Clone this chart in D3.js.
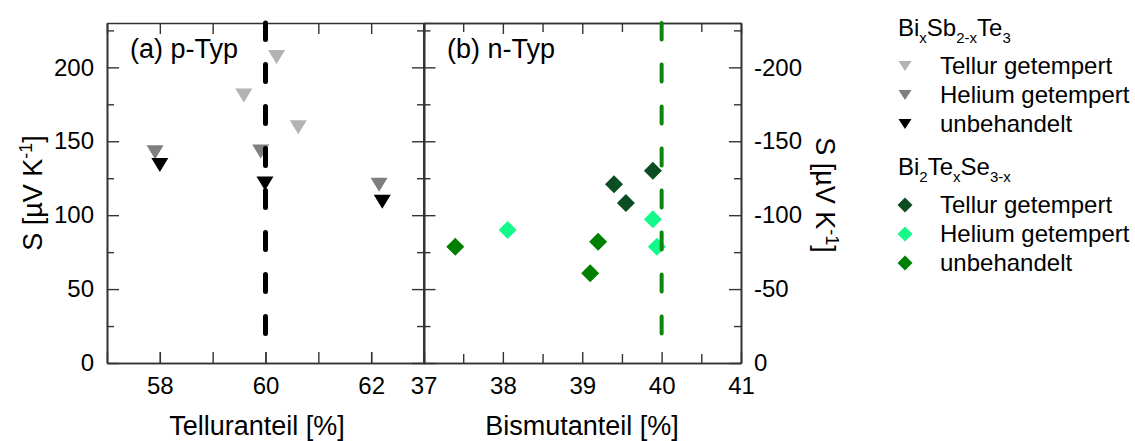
<!DOCTYPE html>
<html><head><meta charset="utf-8">
<script src="https://cdn.jsdelivr.net/npm/d3@7"></script>
<style>
body{margin:0;background:#fff}
svg text{font-family:Arial,"Liberation Sans",Helvetica,sans-serif;fill:#000}
</style>
</head><body><svg id="c" width="1135" height="441"></svg>
<script>
// ---------- data ----------
// (a) p-Typ : BixSb2-xTe3, Seebeck coefficient S [µV/K] vs Telluranteil [%]
const pTellurX = [60.21, 59.59, 60.62];
const pTellurS = [207, 181, 159.5];
const pHeliumX = [57.91, 59.91, 62.15];
const pHeliumS = [142.5, 143, 120.5];
const pUnbX    = [58.0, 59.99, 62.21];
const pUnbS    = [134, 121.5, 109];
// (b) n-Typ : Bi2TexSe3-x, S vs Bismutanteil [%]
const nTellurX = [39.40, 39.55, 39.89];
const nTellurS = [-121, -108.3, -130];
const nHeliumX = [38.06, 39.89, 39.94];
const nHeliumS = [-90, -97.2, -78.7];
const nUnbX    = [37.40, 39.20, 39.10];
const nUnbS    = [-78.7, -82, -60.7];
// stoichiometric reference lines
const pRefX = 60, pRefS = [20, 230];
const nRefX = 40, nRefS = [-20, -230];
// ticks
const yTicksLeft = [0, 50, 100, 150, 200];
const yMinorLeft = [25, 75, 125, 175, 225];
const yTicksRight = [0, -50, -100, -150, -200];
const yMinorRight = [-25, -75, -125, -175, -225];
const xTicksLeft = [58, 60, 62];
const xAllLeft = [57, 58, 59, 60, 61, 62, 63];
const xTicksRight = [37, 38, 39, 40, 41];
const xMinorRight = [37.5, 38.5, 39.5, 40.5];
const seriesNames = ["Tellur getempert", "Helium getempert", "unbehandelt"];
const pColors = ["#b3b3b3", "#7f7f7f", "#000000"];
const nColors = ["#0d4d22", "#14fa8a", "#008000"];

// ---------- scales ----------
const svg = d3.select("#c");
const xL = d3.scaleLinear([57, 63], [107, 424]);
const xR = d3.scaleLinear([37, 41], [423.5, 741]);
const yL = d3.scaleLinear([0, 230], [363, 23]);
const yR = d3.scaleLinear([0, -230], [363, 23]);
const plotTop = 23, plotBot = 363;

function styleAxis(g){
  g.selectAll("path.domain").attr("stroke","#333").attr("stroke-width",1.6);
  g.selectAll(".tick line").attr("stroke","#333").attr("stroke-width",1.4);
  g.selectAll("text").style("font-size","24px").attr("fill","#000");
}
function ax(gen, tr){ const g = svg.append("g").attr("transform", tr).call(gen); styleAxis(g); return g; }

// left panel axes
ax(d3.axisLeft(yL).tickValues(yTicksLeft).tickSizeInner(-12).tickSizeOuter(0).tickPadding(13).tickFormat(d=>String(d)), `translate(${xL.range()[0]},0)`);
ax(d3.axisLeft(yL).tickValues(yMinorLeft).tickSizeInner(-7).tickSizeOuter(0).tickFormat(""), `translate(${xL.range()[0]},0)`);
ax(d3.axisRight(yL).tickValues(yTicksLeft).tickSizeInner(-12).tickSizeOuter(0).tickFormat(""), `translate(${xL.range()[1]},0)`);
ax(d3.axisRight(yL).tickValues(yMinorLeft).tickSizeInner(-7).tickSizeOuter(0).tickFormat(""), `translate(${xL.range()[1]},0)`);
ax(d3.axisBottom(xL).tickValues(xTicksLeft).tickSizeInner(-11).tickSizeOuter(0).tickPadding(14).tickFormat(d=>String(d)), `translate(0,${plotBot})`);
ax(d3.axisBottom(xL).tickValues(xAllLeft).tickSizeInner(-11).tickSizeOuter(0).tickFormat(""), `translate(0,${plotBot})`);
ax(d3.axisTop(xL).tickValues(xAllLeft).tickSizeInner(-11).tickSizeOuter(0).tickFormat(""), `translate(0,${plotTop})`);

// right panel axes
ax(d3.axisLeft(yR).tickValues(yTicksRight).tickSizeInner(-12).tickSizeOuter(0).tickFormat(""), `translate(${xR.range()[0]},0)`);
ax(d3.axisLeft(yR).tickValues(yMinorRight).tickSizeInner(-7).tickSizeOuter(0).tickFormat(""), `translate(${xR.range()[0]},0)`);
ax(d3.axisRight(yR).tickValues(yTicksRight).tickSizeInner(-12).tickSizeOuter(0).tickPadding(13).tickFormat(d=>String(d)), `translate(${xR.range()[1]},0)`);
ax(d3.axisRight(yR).tickValues(yMinorRight).tickSizeInner(-7).tickSizeOuter(0).tickFormat(""), `translate(${xR.range()[1]},0)`);
ax(d3.axisBottom(xR).tickValues(xTicksRight).tickSizeInner(-11).tickSizeOuter(0).tickPadding(14).tickFormat(d=>String(d)), `translate(0,${plotBot})`);
ax(d3.axisBottom(xR).tickValues(xMinorRight).tickSizeInner(-9).tickSizeOuter(0).tickFormat(""), `translate(0,${plotBot})`);
ax(d3.axisTop(xR).tickValues(xTicksRight).tickSizeInner(-11).tickSizeOuter(0).tickFormat(""), `translate(0,${plotTop})`);
ax(d3.axisTop(xR).tickValues(xMinorRight).tickSizeInner(-9).tickSizeOuter(0).tickFormat(""), `translate(0,${plotTop})`);

// ---------- markers ----------
function tri(w,h){ return `M${-w/2},${-h/2}L${w/2},${-h/2}L0,${h/2}Z`; }
function dia(r){ return `M0,${-r}L${r},0L0,${r}L${-r},0Z`; }
const pSets = [[pTellurX,pTellurS],[pHeliumX,pHeliumS],[pUnbX,pUnbS]];
pSets.forEach(([xs,ys],i)=>{
  svg.append("g").selectAll("path").data(xs.map((x,j)=>[x,ys[j]])).join("path")
    .attr("d", tri(17,14)).attr("fill", pColors[i])
    .attr("transform", d=>`translate(${xL(d[0])},${yL(d[1])})`);
});
const nSets = [[nTellurX,nTellurS],[nHeliumX,nHeliumS],[nUnbX,nUnbS]];
nSets.forEach(([xs,ys],i)=>{
  svg.append("g").selectAll("path").data(xs.map((x,j)=>[x,ys[j]])).join("path")
    .attr("d", dia(9)).attr("fill", nColors[i])
    .attr("transform", d=>`translate(${xR(d[0])},${yR(d[1])})`);
});

// reference dashed lines
svg.append("line").attr("x1",xL(pRefX)).attr("x2",xL(pRefX)).attr("y1",yL(pRefS[0])).attr("y2",yL(pRefS[1]))
  .attr("stroke","#000").attr("stroke-width",5).attr("stroke-linecap","round").attr("stroke-dasharray","17,25");
svg.append("line").attr("x1",xR(nRefX)).attr("x2",xR(nRefX)).attr("y1",yR(nRefS[0])).attr("y2",yR(nRefS[1]))
  .attr("stroke","#0a860a").attr("stroke-width",4).attr("stroke-linecap","round").attr("stroke-dasharray","17,25");

// ---------- texts ----------
svg.append("text").attr("x",130).attr("y",58).style("font-size","27px").text("(a) p-Typ");
svg.append("text").attr("x",447).attr("y",58).style("font-size","27px").text("(b) n-Typ");
svg.append("text").attr("x",257).attr("y",435).attr("text-anchor","middle").style("font-size","27px").text("Telluranteil [%]");
svg.append("text").attr("x",582).attr("y",435).attr("text-anchor","middle").style("font-size","27px").text("Bismutanteil [%]");

function yTitle(x,y,rot){
  const t = svg.append("text").attr("transform",`translate(${x},${y}) rotate(${rot})`)
    .attr("text-anchor","middle").style("font-size","27px");
  t.append("tspan").text("S [µV K");
  t.append("tspan").attr("dy",-10).style("font-size","18px").text("-1");
  t.append("tspan").attr("dy",10).text("]");
}
yTitle(42,193,-90);
yTitle(816,195,90);

// ---------- legend ----------
function legTitle(y, parts){
  const t = svg.append("text").attr("x",898).attr("y",y).style("font-size","24px");
  let sub=false;
  parts.forEach(([s,isSub])=>{
    const dy = isSub && !sub ? 7 : (!isSub && sub ? -7 : 0);
    t.append("tspan").attr("dy",dy).style("font-size", isSub?"15px":"24px").text(s);
    sub = isSub;
  });
}
legTitle(36, [["Bi",0],["x",1],["Sb",0],["2-x",1],["Te",0],["3",1]]);
legTitle(175, [["Bi",0],["2",1],["Te",0],["x",1],["Se",0],["3-x",1]]);
const legY1 = [74, 103, 132], legY2 = [213, 242, 271];
seriesNames.forEach((n,i)=>{
  svg.append("path").attr("d",tri(13,10)).attr("fill",pColors[i]).attr("transform",`translate(905,${legY1[i]-8})`);
  svg.append("text").attr("x",940).attr("y",legY1[i]).style("font-size","24px").text(n);
  svg.append("path").attr("d",dia(7.5)).attr("fill",nColors[i]).attr("transform",`translate(905,${legY2[i]-8})`);
  svg.append("text").attr("x",940).attr("y",legY2[i]).style("font-size","24px").text(n);
});
</script>
</body></html>
